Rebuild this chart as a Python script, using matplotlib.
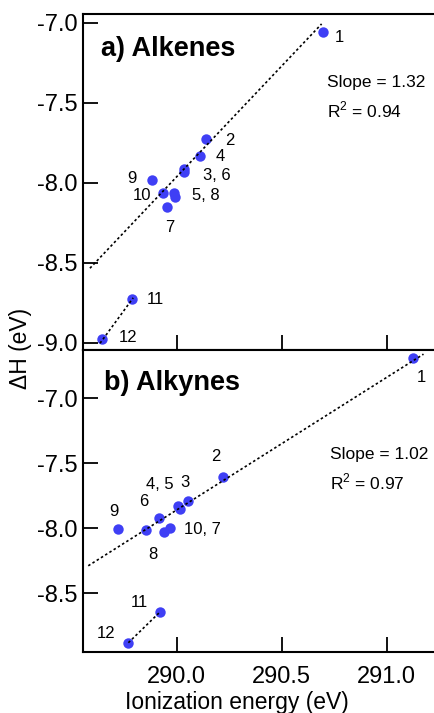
import matplotlib
matplotlib.use("Agg")
import matplotlib.pyplot as plt

plt.rcParams['font.family'] = ['Liberation Sans', 'DejaVu Sans']
plt.rcParams['axes.unicode_minus'] = False
plt.rcParams['mathtext.fontset'] = 'custom'
plt.rcParams['mathtext.rm'] = 'Liberation Sans'

# compound numbers 1..12
numbers = list(range(1, 13))

# a) alkenes
alkene_ie = [290.695, 290.138, 290.035, 290.111, 289.989, 290.036,
             289.952, 289.991, 289.881, 289.933, 289.789, 289.644]
alkene_dh = [-7.056, -7.729, -7.915, -7.833, -8.063, -7.935,
             -8.154, -8.088, -7.983, -8.063, -8.727, -8.979]
alkene_labels = ["1", "2", "3, 6", "4", "5, 8", "", "7", "", "9", "10", "11", "12"]
alkene_fit_x = [289.587, 290.690]
alkene_fit_y = [-8.535, -7.008]
alkene_short_x = [289.635, 289.793]
alkene_short_y = [-9.004, -8.720]
alkene_stats = ["Slope = 1.32", r"$\mathrm{R}^{2}$ = 0.94"]

# b) alkynes
alkyne_ie = [291.127, 290.222, 290.052, 290.008, 290.016, 289.914,
             289.968, 289.854, 289.719, 289.940, 289.922, 289.770]
alkyne_dh = [-6.692, -7.603, -7.790, -7.826, -7.852, -7.918,
             -7.995, -8.013, -8.008, -8.031, -8.641, -8.880]
alkyne_labels = ["1", "2", "3", "4, 5", "", "6", "10, 7", "8", "9", "", "11", "12"]
alkyne_fit_x = [289.579, 291.175]
alkyne_fit_y = [-8.288, -6.660]
alkyne_short_x = [289.770, 289.922]
alkyne_short_y = [-8.880, -8.641]
alkyne_stats = ["Slope = 1.02", r"$\mathrm{R}^{2}$ = 0.97"]

# label offsets in pixels (dx, dy up)
alkene_offsets = [(17, -6), (24, -1), (33, -6), (20, -1), (31, -3), (0, 0),
                  (3, -20), (0, 0), (-20, 1), (-21, -3), (23, -1), (26, 2)]
alkyne_offsets = [(8, -19), (-8, 20), (-3, 19), (-19, 21), (0, 0), (-15, 16),
                  (32, -2), (7, -24), (-4, 18), (0, 0), (-21, 9), (-22, 9)]

W, H = 434, 713
fig = plt.figure(figsize=(W / 100, H / 100), dpi=100)

ax_top = fig.add_axes([83 / W, 1 - 350 / H, 1 - 83 / W, 336 / H])
ax_bot = fig.add_axes([83 / W, 1 - 651.7 / H, 1 - 83 / W, 301.7 / H])

blue = '#3f3ff5'
panels = [
    (ax_top, alkene_ie, alkene_dh, alkene_labels, alkene_offsets, alkene_fit_x, alkene_fit_y,
     alkene_short_x, alkene_short_y, alkene_stats, "a) Alkenes",
     (-9.046, -6.946), [-7.0, -7.5, -8.0, -8.5, -9.0], (0.695, 0.795, 0.714), (0.05, 0.895)),
    (ax_bot, alkyne_ie, alkyne_dh, alkyne_labels, alkyne_offsets, alkyne_fit_x, alkyne_fit_y,
     alkyne_short_x, alkyne_short_y, alkyne_stats, "b) Alkynes",
     (-8.949, -6.628), [-7.0, -7.5, -8.0, -8.5], (0.703, 0.652, 0.5625), (0.06, 0.89)),
]

for (ax, ie, dh, labels, offs, fx, fy, sx, sy, stats, title,
     ylim, yticks, stat_pos, title_pos) in panels:
    ax.plot(ie, dh, 'o', color=blue, markersize=7.5, markeredgewidth=0, zorder=2)
    ax.plot(fx, fy, color='black', lw=1.2, linestyle=(0, (1.5, 1.5)), zorder=3)
    ax.plot(sx, sy, color='black', lw=1.2, linestyle=(0, (1.5, 1.5)), zorder=3)
    for x, y, lab, (dx, dy) in zip(ie, dh, labels, offs):
        if lab:
            ax.annotate(lab, (x, y), xytext=(dx, dy), textcoords='offset pixels',
                        ha='center', va='center', fontsize=12)
    ax.text(stat_pos[0], stat_pos[1], stats[0], transform=ax.transAxes, fontsize=12.5, va='center')
    ax.text(stat_pos[0], stat_pos[2], stats[1], transform=ax.transAxes, fontsize=12.5, va='center')
    ax.text(title_pos[0], title_pos[1], title, transform=ax.transAxes,
            fontsize=19.5, fontweight='bold', va='center')

    ax.set_xlim(289.554, 291.225)
    ax.set_ylim(*ylim)
    ax.set_yticks(yticks)
    ax.set_yticklabels([f"{t:.1f}" for t in yticks])
    ax.set_xticks([290.0, 290.5, 291.0])
    ax.tick_params(direction='in', length=11, width=1.3, labelsize=17, pad=4)
    ax.spines['right'].set_visible(False)
    for s in ['left', 'top', 'bottom']:
        ax.spines[s].set_linewidth(1.5)

ax_top.tick_params(axis='x', labelbottom=False)
ax_bot.tick_params(axis='x', pad=10)

fig.text(237 / W, 1 - 702 / H, "Ionization energy (eV)", fontsize=16.5, ha='center', va='center')
fig.text(20 / W, 1 - 348 / H, "ΔH (eV)", rotation=90, fontsize=16.5, ha='center', va='center')

fig.savefig("out.png", dpi=100)
